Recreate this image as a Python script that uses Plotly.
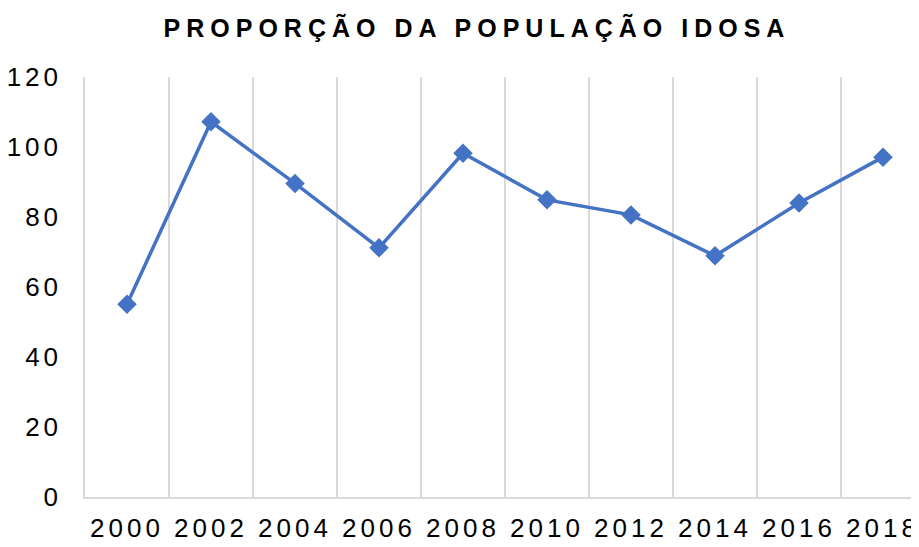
import plotly.graph_objects as go

years = ["2000", "2002", "2004", "2006", "2008", "2010", "2012", "2014", "2016", "2018"]
values = [55.1, 107.2, 89.6, 71.2, 98.2, 84.9, 80.6, 68.9, 84.0, 97.1]
y_ticks = [0, 20, 40, 60, 80, 100, 120]
title_text = "PROPORÇÃO DA POPULAÇÃO IDOSA"

blue = "#4472C4"
grid = "#D9D9D9"
font_family = "Liberation Sans, Arial, sans-serif"

W, H = 911, 539  # page has an 8px body margin

fig = go.Figure()
fig.add_trace(go.Scatter(
    x=years, y=values, mode="lines+markers",
    line=dict(color=blue, width=3.5),
    marker=dict(symbol="diamond", size=15, color=blue),
    cliponaxis=False, showlegend=False,
))

fig.update_layout(
    width=W, height=H,
    margin=dict(l=77, r=0, t=69, b=50),
    paper_bgcolor="white", plot_bgcolor="white",
    font=dict(family=font_family, color="black"),
    title=dict(
        text='<span style="letter-spacing:6px"><b>' + title_text + '</b></span>',
        x=469 / W, xanchor="center", y=1 - 20 / H, yanchor="middle",
        font=dict(size=25, family=font_family, color="black"),
    ),
)

fig.update_xaxes(
    type="category",
    categoryorder="array", categoryarray=years,
    range=[-0.5, 9.5 - 6 / 84],
    tickson="boundaries",
    tickmode="array", tickvals=years,
    ticktext=['<span style="letter-spacing:4px">' + y + '</span>' for y in years],
    tickangle=0, automargin=False,
    ticks="", showgrid=True, gridcolor=grid, gridwidth=1.5,
    showline=True, linecolor=grid, linewidth=1.5,
    tickfont=dict(size=26, family=font_family, color="black"),
    ticklabelstandoff=7,
)
fig.update_yaxes(
    range=[0, 120], tickmode="array", tickvals=y_ticks,
    ticktext=['<span style="letter-spacing:4px">' + str(v) + '</span>' for v in y_ticks],
    showgrid=False, zeroline=False, automargin=False,
    showline=True, linecolor=grid, linewidth=1.5,
    ticks="", tickfont=dict(size=26, family=font_family, color="black"),
    ticklabelstandoff=16,
)

fig.write_html("out.html")
